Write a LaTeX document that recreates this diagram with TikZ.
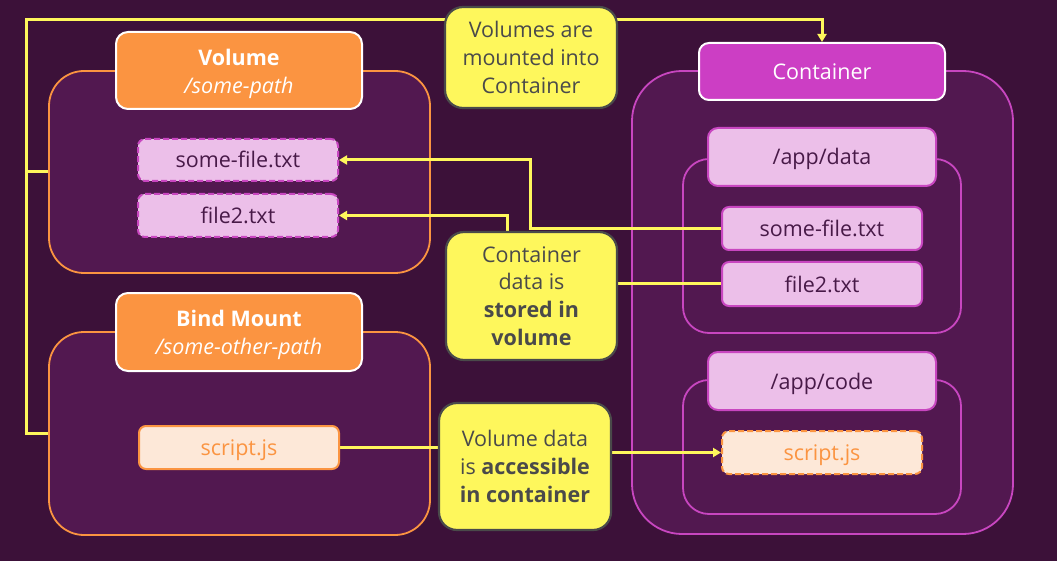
\documentclass[tikz,border=0pt]{standalone}
\usepackage{fontspec}
\setmainfont{Open Sans}
\usetikzlibrary{arrows.meta,calc}
\pgfdeclarelayer{panels}
\pgfdeclarelayer{lines}
\pgfsetlayers{panels,lines,main}
\definecolor{bgc}{RGB}{60,17,57}
\definecolor{panelc}{RGB}{82,24,80}
\definecolor{orng}{RGB}{251,148,65}
\definecolor{mag}{RGB}{204,62,196}
\definecolor{magb}{RGB}{200,70,192}
\definecolor{pinkf}{RGB}{236,191,233}
\definecolor{peach}{RGB}{253,232,216}
\definecolor{yel}{RGB}{254,247,92}
\definecolor{grayb}{RGB}{74,74,74}
\definecolor{dtext}{RGB}{72,26,72}
\newcommand{\hstrut}{\rule{0pt}{22.5pt}}
\tikzset{
  box/.style={rectangle,inner sep=0pt,align=center,font=\fontsize{21.5}{27.7}\selectfont},
  oneline/.style={text height=18pt,text depth=2pt},
  vpanel/.style={box,draw=orng,fill=panelc,line width=1.8pt,rounded corners=35pt},
  cpanel/.style={box,draw=magb,fill=panelc,line width=1.8pt,rounded corners=50pt},
  dpanel/.style={box,draw=magb,fill=panelc,line width=1.8pt,rounded corners=26pt},
  ohead/.style={box,draw=white,fill=orng,line width=2pt,rounded corners=12pt,text=white},
  chead/.style={box,oneline,draw=white,fill=mag,line width=2pt,rounded corners=10pt,text=white},
  dhead/.style={box,oneline,draw=magb,fill=pinkf,line width=2pt,rounded corners=10pt,text=dtext},
  filebox/.style={box,oneline,draw=magb,fill=pinkf,line width=2pt,rounded corners=7pt,text=dtext,minimum width=200pt},
  dfilebox/.style={filebox,dash pattern=on 6pt off 3pt},
  scriptbox/.style={box,oneline,draw=orng,fill=peach,line width=2pt,rounded corners=7pt,text=orng,minimum width=200pt},
  dscriptbox/.style={scriptbox,dash pattern=on 6pt off 3pt},
  note/.style={box,draw=grayb,fill=yel,line width=2.2pt,rounded corners=18pt,text=grayb,minimum width=172pt},
  conn/.style={draw=yel,line width=3pt},
  arr/.style={conn,-{Triangle[width=9pt,length=8pt]}},
}
\begin{document}
\begin{tikzpicture}[x=1pt,y=-1pt]
\begin{pgfonlayer}{panels}
\fill[bgc] (0,0) rectangle (1057,561);
\node[vpanel,minimum width=381pt,minimum height=202pt] (volpanel) at (239.5,172) {};
\node[vpanel,minimum width=381pt,minimum height=203pt] (bindpanel) at (239.5,433.5) {};
\node[cpanel,minimum width=381pt,minimum height=463pt] (cpanel) at (822.5,302.5) {};
\node[dpanel,minimum width=278pt,minimum height=174pt] (datapanel) at (822,246) {};
\node[dpanel,minimum width=278pt,minimum height=134pt] (codepanel) at (822,447) {};
\end{pgfonlayer}
\useasboundingbox (0,0) rectangle (1057,561);
% coordinates for connectors
\coordinate (ltop) at (26,20);
\coordinate (j1) at (530,0);
\coordinate (j2) at (507,0);
% headers
\node[ohead,minimum width=246pt,minimum height=77pt] (volhead) at (239,70.5) {\hstrut\textbf{Volume}\\\textit{/some-path}};
\node[ohead,minimum width=246pt,minimum height=78pt] (bindhead) at (239,332) {\hstrut\textbf{Bind Mount}\\\textit{/some-other-path}};
\node[chead,minimum width=246pt,minimum height=57pt] (chead) at (822,71.5) {Container};
\node[dhead,minimum width=228pt,minimum height=58pt] (datahead) at (822,157) {/app/data};
\node[dhead,minimum width=228pt,minimum height=58pt] (codehead) at (822,381) {/app/code};
% files
\node[dfilebox,minimum height=42pt] (lsome) at (238,160) {some-file.txt};
\node[dfilebox,minimum height=43pt] (lfile2) at (238,215.5) {file2.txt};
\node[scriptbox,minimum height=43pt] (lscript) at (239,447.5) {script.js};
\node[filebox,minimum height=43pt] (rsome) at (822,228.5) {some-file.txt};
\node[filebox,minimum height=44pt] (rfile2) at (822,284) {file2.txt};
\node[dscriptbox,minimum height=43pt] (rscript) at (822,452.5) {script.js};
% notes
\node[note,minimum height=101pt] (note1) at (531,57.5) {Volumes are\\mounted into\\Container};
\node[note,minimum width=171pt,minimum height=128pt] (note2) at (531.5,296) {Container\\data is\\\textbf{stored in}\\\textbf{volume}};
\node[note,minimum height=127pt] (note3) at (525,466.5) {Volume data\\is \textbf{accessible}\\\textbf{in container}};
% connectors
\begin{pgfonlayer}{lines}
\draw[conn] (volpanel.west) -- (volpanel.west -| ltop);
\draw[arr] (bindpanel.west) -| (ltop) -| (chead.north);
\draw[arr] (rsome.west) -| (j1 |- lsome.east) -- (lsome.east);
\draw[arr] (j2 |- note2.north) |- (lfile2.east);
\draw[conn] (rfile2.west) -- (rfile2.west -| note2.east);
\draw[conn] (lscript.east) -- (lscript.east -| note3.west);
\draw[arr] (rscript.west -| note3.east) -- (rscript.west);
\end{pgfonlayer}
\end{tikzpicture}
\end{document}
